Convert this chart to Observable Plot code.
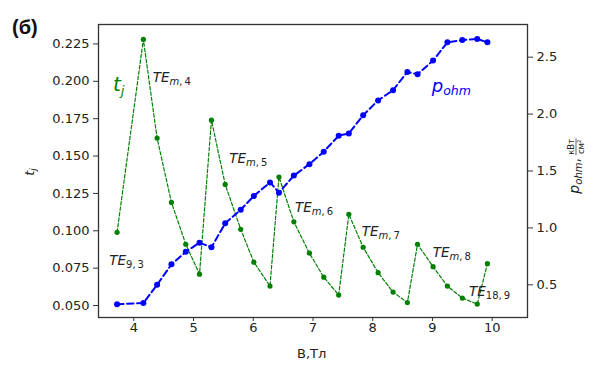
<!DOCTYPE html>
<html><head><meta charset="utf-8">
<script src="https://cdn.jsdelivr.net/npm/d3@7"></script>
<script src="https://cdn.jsdelivr.net/npm/@observablehq/plot@0.6"></script>
<style>body{margin:0;background:#fff} svg{display:block}</style>
</head><body><div id="chart"></div>
<script>
// ---- data ----
const B = [3.72,4.16,4.39,4.63,4.87,5.10,5.30,5.53,5.79,6.01,6.28,6.43,6.68,6.94,7.18,7.43,7.60,7.84,8.09,8.34,8.58,8.75,9.01,9.25,9.50,9.75,9.92];
const tj = [0.099,0.228,0.162,0.119,0.091,0.071,0.174,0.131,0.101,0.079,0.063,0.136,0.106,0.085,0.069,0.057,0.111,0.089,0.072,0.059,0.052,0.091,0.076,0.063,0.055,0.051,0.078];
const pohm = [0.33,0.34,0.50,0.68,0.79,0.87,0.83,1.04,1.16,1.28,1.40,1.31,1.46,1.56,1.67,1.81,1.83,1.99,2.12,2.21,2.37,2.35,2.47,2.63,2.65,2.66,2.63];
const xTicks = [4,5,6,7,8,9,10];
const tjTicks = [0.05,0.075,0.1,0.125,0.15,0.175,0.2,0.225];
const pTicks = [0.5,1.0,1.5,2.0,2.5];
const annX = [4.325,5.607,6.707,7.824,9.013,9.62,3.598];
const annY = [0.2027,0.1485,0.1157,0.0995,0.0856,0.0596,0.0801];
const annSubA = ["m","m","m","m","m","",""];
const annSubB = [",\u20094",",\u20095",",\u20096",",\u20097",",\u20098","18,\u20099","9,\u20093"];

const xDomain = [3.409, 10.591];
const tDomain = [0.042, 0.238];
const pDomain = [0.213, 2.787];
const pToT = p => tDomain[0] + (p - pDomain[0]) / (pDomain[1] - pDomain[0]) * (tDomain[1] - tDomain[0]);
const tToP = t => pDomain[0] + (t - tDomain[0]) / (tDomain[1] - tDomain[0]) * (pDomain[1] - pDomain[0]);

const data = B.map((b, i) => ({B: b, tj: tj[i], p: pohm[i]}));

const plot = Plot.plot({
  width: 597, height: 367,
  marginLeft: 98, marginRight: 70, marginTop: 24, marginBottom: 50,
  x: {domain: xDomain},
  y: {domain: tDomain},
  style: {fontFamily: "DejaVu Sans", fontSize: "13px", color: "#222", background: "white"},
  marks: [
    Plot.axisX(xTicks, {tickSize: 4, tickPadding: 1, label: null, stroke: "#333"}),
    Plot.axisY(tjTicks, {tickSize: 5, tickPadding: 4, tickFormat: d3.format(".3f"), label: null, stroke: "#333"}),
    Plot.axisY(pTicks.map(pToT), {anchor: "right", tickSize: 5, tickPadding: 4, tickFormat: d => tToP(d).toFixed(1), label: null, stroke: "#333"}),
    Plot.line(data, {x: "B", y: "tj", stroke: "#008000", strokeWidth: 1.2, strokeDasharray: "3.5,2"}),
    Plot.dot(data, {x: "B", y: "tj", fill: "#008000", r: 2.6}),
    Plot.line(data, {x: "B", y: d => pToT(d.p), stroke: "#0000ff", strokeWidth: 2, strokeDasharray: "6.5,3.5"}),
    Plot.dot(data, {x: "B", y: d => pToT(d.p), fill: "#0000ff", r: 3}),
    Plot.frame({stroke: "#333", strokeWidth: 1.3})
  ]
});
document.getElementById("chart").appendChild(plot);

const sxs = plot.scale("x"), sys = plot.scale("y");
const sx = v => sxs.apply ? sxs.apply(v) : d3.scaleLinear(sxs.domain, sxs.range)(v);
const sy = v => sys.apply ? sys.apply(v) : d3.scaleLinear(sys.domain, sys.range)(v);
const svg = d3.select(plot);
const FF = "DejaVu Sans";

// TE annotations
annX.forEach((x, i) => {
  const t = svg.append("text").attr("x", sx(x)).attr("y", sy(annY[i])).attr("dy", "0.36em")
    .attr("text-anchor", "start")
    .attr("font-family", FF).attr("font-size", 13.5).attr("fill", "#222");
  t.append("tspan").attr("font-style", "italic").text("TE");
  if (annSubA[i]) t.append("tspan").attr("font-style", "italic").attr("font-size", 10).attr("dy", 3).text(annSubA[i]);
  t.append("tspan").attr("font-size", 10).attr("dy", annSubA[i] ? 0 : 3).text(annSubB[i]);
});

// series labels
{
  const t = svg.append("text").attr("x", sx(3.66)).attr("y", sy(0.1971)).attr("dy", "0.3em")
    .attr("text-anchor", "start")
    .attr("font-family", FF).attr("font-size", 20).attr("fill", "#008000").attr("font-style", "italic");
  t.append("tspan").text("t");
  t.append("tspan").attr("font-size", 13).attr("dy", 4).text("j");
}
{
  const t = svg.append("text").attr("x", sx(8.996)).attr("y", sy(0.1951)).attr("dy", "0.2em")
    .attr("text-anchor", "start")
    .attr("font-family", FF).attr("font-size", 18).attr("fill", "#0000ff").attr("font-style", "italic");
  t.append("tspan").text("p");
  t.append("tspan").attr("font-size", 12.5).attr("dy", 3).text("ohm");
}

// panel letter
svg.append("text").attr("x", 12).attr("y", 34).attr("text-anchor", "start").attr("font-family", "Liberation Sans")
  .attr("font-weight", "bold").attr("font-size", 20).attr("fill", "#111").text("(б)");

// x label
svg.append("text").attr("x", 311.7).attr("y", 358).attr("text-anchor", "middle")
  .attr("font-family", FF).attr("font-size", 13).attr("fill", "#222").text("B,Тл");

// left y label
{
  const t = svg.append("text").attr("transform", "translate(34,172) rotate(-90)").attr("text-anchor", "middle")
    .attr("font-family", FF).attr("font-size", 13).attr("fill", "#222").attr("font-style", "italic");
  t.append("tspan").text("t");
  t.append("tspan").attr("font-size", 9).attr("dy", 2).text("j");
}

// right y label
{
  const g = svg.append("g").attr("text-anchor", "start");
  const t = g.append("text").attr("font-family", FF).attr("font-size", 14).attr("fill", "#222");
  t.append("tspan").attr("font-style", "italic").text("p");
  t.append("tspan").attr("font-style", "italic").attr("font-size", 10).attr("dy", 2.5).text("ohm");
  t.append("tspan").attr("dy", -2.5).text(",\u2009");
  const w = t.node().getComputedTextLength();
  const num = g.append("text").attr("font-family", FF).attr("font-size", 8.5).attr("fill", "#222")
    .attr("text-anchor", "middle").attr("y", -5).text("кВт");
  const den = g.append("text").attr("font-family", FF).attr("font-size", 8.5).attr("fill", "#222")
    .attr("text-anchor", "middle").attr("y", 4.5).text("см²");
  const fw = Math.max(num.node().getComputedTextLength(), den.node().getComputedTextLength()) + 1;
  num.attr("x", w + fw / 2); den.attr("x", w + fw / 2);
  g.append("line").attr("x1", w).attr("x2", w + fw).attr("y1", -3).attr("y2", -3).attr("stroke", "#222").attr("stroke-width", 0.7);
  const total = w + fw;
  g.attr("transform", `translate(579,166) rotate(-90) translate(${-total / 2},0)`);
}
</script></body></html>
